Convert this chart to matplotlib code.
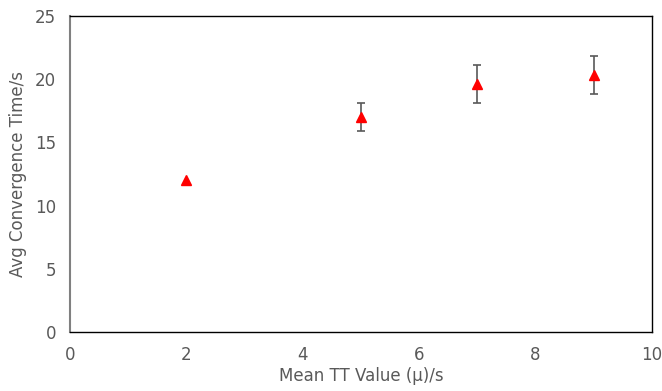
import matplotlib
matplotlib.use("Agg")
import matplotlib.pyplot as plt

mean_tt = [2, 5, 7, 9]
avg_conv = [12.0, 17.0, 19.65, 20.35]
conv_err = [0.0, 1.08, 1.5, 1.5]

text_col = "#595959"

fig = plt.figure(figsize=(6.62, 3.91), dpi=100)
ax = fig.add_axes([70 / 662, 59 / 391, 582 / 662, 316 / 391])

# no whisker where the spread is zero
has_err = [i for i, e in enumerate(conv_err) if e > 0]
ax.errorbar([mean_tt[i] for i in has_err], [avg_conv[i] for i in has_err],
            yerr=[conv_err[i] for i in has_err], fmt="none", ecolor="#595959",
            elinewidth=1.2, capsize=3, capthick=1.2, zorder=2)
ax.plot(mean_tt, avg_conv, linestyle="none", marker="^", color="#ff0000",
        markersize=7, zorder=3)

ax.set_xlim(0, 10)
ax.set_ylim(0, 25)
ax.set_xticks(range(0, 11, 2))
ax.set_yticks(range(0, 26, 5))
ax.tick_params(axis="x", length=0, labelsize=12, labelcolor=text_col, pad=10)
ax.tick_params(axis="y", length=0, labelsize=12, labelcolor=text_col, pad=10)
for s in ax.spines.values():
    s.set_color("black")
    s.set_linewidth(1)
ax.spines["left"].set_color("#808080")
ax.spines["left"].set_linewidth(1.5)

ax.set_xlabel("Mean TT Value (\u03bc)/s", fontsize=12, color=text_col, labelpad=2)
ax.set_ylabel("Avg Convergence Time/s", fontsize=12, color=text_col, labelpad=6)

fig.savefig("out.png", dpi=100)
